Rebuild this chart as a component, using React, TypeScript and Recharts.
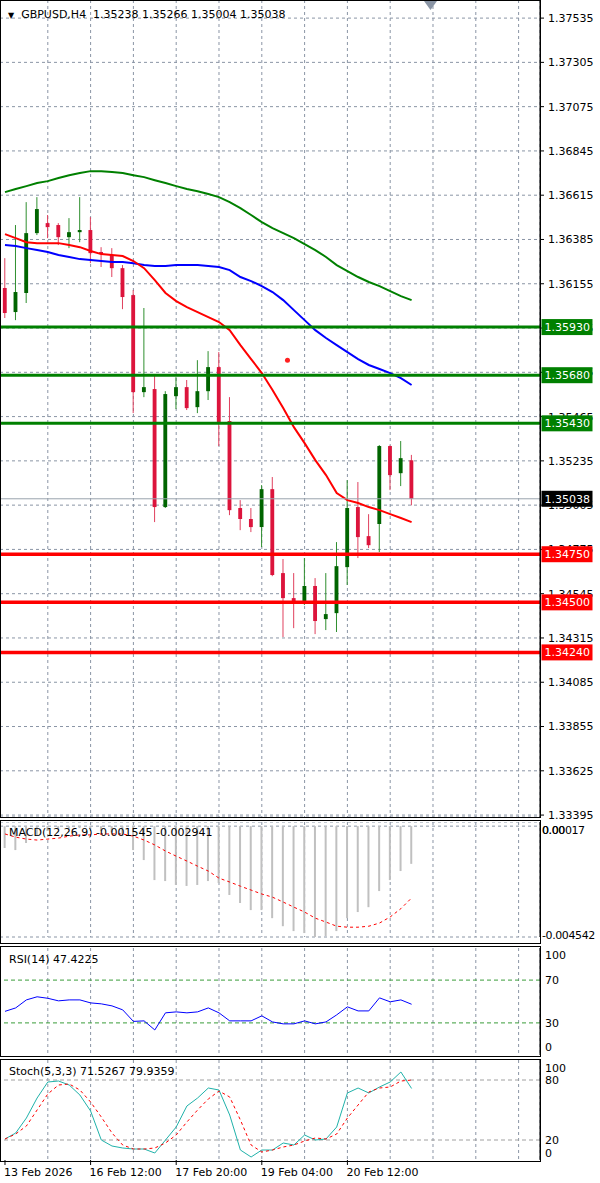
import React from 'react';
import { ComposedChart, Bar, Line, Scatter, XAxis, YAxis, CartesianGrid, ReferenceLine } from 'recharts';

const FONT = '"DejaVu Sans", sans-serif';
const GRID = '#8a95a5';

// ---- candles (GBPUSD H4) ----
const opens = [1.36133, 1.36008, 1.36107, 1.36418, 1.3647, 1.3646, 1.36397, 1.36423, 1.36434, 1.3632, 1.36304, 1.36236, 1.36096, 1.35592, 1.35608, 1.34995, 1.35571, 1.35618, 1.35514, 1.35597, 1.35722, 1.35442, 1.3499, 1.34933, 1.34891, 1.35088, 1.34652, 1.34522, 1.34496, 1.34585, 1.34413, 1.34444, 1.34683, 1.34995, 1.34844, 1.34907, 1.35312, 1.35171, 1.35238];
const highs = [1.36288, 1.3646, 1.36579, 1.36605, 1.36512, 1.3647, 1.36496, 1.36605, 1.36501, 1.36345, 1.3634, 1.36252, 1.36122, 1.36029, 1.35681, 1.35597, 1.3567, 1.35655, 1.35758, 1.35805, 1.358, 1.35566, 1.35031, 1.3499, 1.35109, 1.35151, 1.34725, 1.34652, 1.3473, 1.34626, 1.34652, 1.34813, 1.35135, 1.35125, 1.34958, 1.35317, 1.35315, 1.35338, 1.35266];
const lows = [1.35977, 1.35966, 1.36055, 1.36408, 1.36392, 1.36356, 1.3634, 1.36371, 1.36262, 1.36242, 1.3619, 1.36023, 1.35483, 1.35566, 1.34917, 1.3499, 1.35504, 1.35499, 1.35483, 1.35551, 1.35312, 1.34953, 1.34875, 1.34865, 1.34787, 1.34636, 1.3432, 1.34366, 1.34486, 1.34335, 1.34356, 1.34346, 1.3459, 1.3473, 1.34782, 1.34761, 1.35083, 1.35104, 1.35004];
const closes = [1.36003, 1.36112, 1.36418, 1.36543, 1.36449, 1.36397, 1.36423, 1.36434, 1.36314, 1.36309, 1.36236, 1.36086, 1.35592, 1.35618, 1.34995, 1.35582, 1.35618, 1.35509, 1.35597, 1.35722, 1.35436, 1.34979, 1.34933, 1.34891, 1.35088, 1.34642, 1.34522, 1.34496, 1.34585, 1.34403, 1.34439, 1.34688, 1.3499, 1.34839, 1.34797, 1.35312, 1.35161, 1.35249, 1.35038];

// ---- moving averages ----
const maGreen = [1.36631, 1.36647, 1.36662, 1.36678, 1.36688, 1.36704, 1.36719, 1.3673, 1.3674, 1.3674, 1.36735, 1.3673, 1.36719, 1.36709, 1.36693, 1.36678, 1.36662, 1.36647, 1.36636, 1.36621, 1.36605, 1.36579, 1.36548, 1.36512, 1.36475, 1.36444, 1.36418, 1.36392, 1.36361, 1.3633, 1.36294, 1.36252, 1.36221, 1.3619, 1.36164, 1.36143, 1.36117, 1.36091, 1.3607];
const maBlue = [1.36356, 1.36351, 1.3634, 1.3633, 1.3632, 1.36304, 1.36294, 1.36283, 1.36278, 1.36273, 1.36268, 1.36268, 1.36262, 1.36252, 1.36247, 1.36247, 1.36252, 1.36252, 1.36252, 1.36247, 1.36242, 1.36226, 1.3619, 1.36169, 1.36143, 1.36112, 1.3607, 1.36018, 1.35966, 1.35914, 1.35873, 1.35836, 1.358, 1.35764, 1.35733, 1.35712, 1.35691, 1.35665, 1.35629];
const maRed = [1.36413, 1.36392, 1.36371, 1.36366, 1.36366, 1.36366, 1.36356, 1.36345, 1.36325, 1.36309, 1.36304, 1.36299, 1.36273, 1.36236, 1.36174, 1.36107, 1.36065, 1.36034, 1.36008, 1.35982, 1.35956, 1.35914, 1.35836, 1.35764, 1.35691, 1.35603, 1.35509, 1.3541, 1.35327, 1.35239, 1.35161, 1.35068, 1.35031, 1.35016, 1.34995, 1.34979, 1.34958, 1.34938, 1.34917];

// ---- indicators ----
const macdMain = [-0.0009, -0.00098, -0.00069, -0.0004, -0.0002, -0.00012, -0.0001, -0.00008, -0.00012, -0.0002, -0.00025, -0.0004, -0.00098, -0.00139, -0.00221, -0.00225, -0.00241, -0.00245, -0.00241, -0.00225, -0.00233, -0.00282, -0.00315, -0.00344, -0.00344, -0.00377, -0.0041, -0.0043, -0.00438, -0.004542, -0.0045, -0.0043, -0.00377, -0.00352, -0.00332, -0.00266, -0.00221, -0.00184, -0.001545];
const macdSignal = [-0.00032, -0.00045, -0.00053, -0.00057, -0.00053, -0.00049, -0.00041, -0.00036, -0.00036, -0.00032, -0.00032, -0.00032, -0.00041, -0.00057, -0.00077, -0.00102, -0.00123, -0.00143, -0.00164, -0.00184, -0.00213, -0.00229, -0.00246, -0.00262, -0.00278, -0.00291, -0.00311, -0.00332, -0.00352, -0.00377, -0.00393, -0.0041, -0.00414, -0.00414, -0.0041, -0.00397, -0.00372, -0.00338, -0.002941];
const rsiValues = [40.8, 44.0, 51.5, 54.4, 53.0, 50.6, 51.5, 51.5, 48.7, 47.8, 45.9, 42.2, 31.4, 31.9, 23.4, 39.4, 40.3, 39.4, 40.3, 44.0, 39.4, 31.9, 31.9, 31.9, 36.6, 30.9, 29.1, 29.1, 31.9, 29.1, 30.9, 37.5, 45.0, 41.2, 41.2, 53.4, 49.7, 51.5, 47.4225];
const stochK = [21, 27, 42, 62, 78, 79, 75, 65, 49, 20, 14, 12, 11, 11, 7, 20, 33, 54, 62, 72, 70, 45, 10, 3, 10, 10, 17, 15, 25, 20, 21, 33, 67, 72, 67, 73, 78, 88, 71.5267];
const stochD = [21, 26, 34, 50, 66, 75, 76, 70, 58, 43, 27, 15, 11, 11, 12, 17, 25, 38, 50, 61, 69, 63, 40, 15, 8, 10, 13, 15, 19, 22, 21, 26, 42, 55, 68, 72, 73, 79, 79.9359];

// ---- axes / levels ----
const priceTicks = [1.37535, 1.37305, 1.37075, 1.36845, 1.36615, 1.36385, 1.36155, 1.35925, 1.35695, 1.35465, 1.35235, 1.35005, 1.34775, 1.34545, 1.34315, 1.34085, 1.33855, 1.33625, 1.33395];
const resistanceLevels = [1.3593, 1.3568, 1.3543];
const supportLevels = [1.3475, 1.345, 1.3424];
const lastPrice = 1.35038;
const markerPoints = [{ i: 26.4, p: 1.35758 }];
const macdTicks = [0.00017, 0, -0.004542];
const rsiTicks = [100, 70, 30, 0];
const rsiLevels = [70, 30];
const stochTicks = [100, 80, 20, 0];
const stochLevels = [80, 20];
const gridIdx = [4, 8, 12, 16, 20, 24, 28, 32, 36, 40, 44, 48];
const timeTickIdx = [0, 8, 16, 24, 32];
const timeLabels = ['13 Feb 2026', '16 Feb 12:00', '17 Feb 20:00', '19 Feb 04:00', '20 Feb 12:00'];

const data = opens.map((o, i) => ({
  i,
  o,
  h: highs[i],
  l: lows[i],
  c: closes[i],
  range: [lows[i], highs[i]],
  maG: maGreen[i],
  maB: maBlue[i],
  maR: maRed[i],
  macd: macdMain[i],
  sig: macdSignal[i],
  rsi: rsiValues[i],
  k: stochK[i],
  d: stochD[i],
}));

const tags = [
  ...resistanceLevels.map((v) => ({ v, bg: '#008000' })),
  ...supportLevels.map((v) => ({ v, bg: '#ff0000' })),
  { v: lastPrice, bg: '#000000' },
];

const X_DOMAIN: [number, number] = [-0.467, 50];
const PRICE_DOMAIN: [number, number] = [1.33385, 1.37629];
const W = 600;
const MAIN_MARGIN = { top: 0, right: 0, bottom: 6, left: 0 };

function Candle(props: any) {
  const { x, y, width, height, payload } = props;
  if (payload == null || height == null) return null;
  const { o, h, l, c } = payload;
  const span = h - l || 1e-9;
  const py = (v: number) => y + ((h - v) / span) * height;
  const up = c >= o;
  const top = py(Math.max(o, c));
  const bot = py(Math.min(o, c));
  const cx = x + width / 2;
  const body = up ? '#006400' : '#dc143c';
  const wick = up ? '#2f8f2f' : '#e0405e';
  return (
    <g>
      <line x1={cx} x2={cx} y1={y} y2={y + height} stroke={wick} strokeWidth={1} />
      <rect x={x} y={top} width={width} height={Math.max(bot - top, 1.5)} fill={body} />
    </g>
  );
}

function PriceTag(props: any) {
  const { viewBox, text, bg } = props;
  if (!viewBox) return null;
  const x = viewBox.x + viewBox.width + 1.5;
  const y = viewBox.y;
  return (
    <g>
      <rect x={x} y={y - 8} width={51} height={16} fill={bg} />
      <text x={x + 3} y={y} dy="0.36em" fill="#fff" fontSize={11} fontFamily={FONT}>
        {text}
      </text>
    </g>
  );
}

function makeYTick(lo: number, hi: number, fmt: (v: number) => string, spacing = 0) {
  return (props: any) => {
    const { x, y, payload } = props;
    const yy = Math.min(Math.max(y, lo), hi);
    return (
      <text x={x} y={yy} dy="0.36em" fontSize={11} fontFamily={FONT} fill="#000" textAnchor="start" letterSpacing={spacing}>
        {fmt(payload.value)}
      </text>
    );
  };
}

function TimeTick(props: any) {
  const { x, y, payload } = props;
  const idx = timeTickIdx.indexOf(payload.value);
  return (
    <text x={x - 1} y={y + 6} dy="0.36em" fontSize={11} fontFamily={FONT} fill="#000" textAnchor="start">
      {idx >= 0 ? timeLabels[idx] : ''}
    </text>
  );
}

const priceTick = makeYTick(-100, 10000, (v) => v.toFixed(5));
const macdTick = makeYTick(8, 113, (v) => (v === 0 ? '0.00' : String(v)), -0.4);
const rsiTick = makeYTick(7, 99, (v) => String(v));
const stochTick = makeYTick(8, 93, (v) => String(v));

const frame = (top: number, height: number): React.CSSProperties => ({
  position: 'absolute',
  left: 0,
  top,
  width: 541,
  height,
  border: '1px solid #000',
  boxSizing: 'border-box',
  pointerEvents: 'none',
});

const label = (top: number, left: number): React.CSSProperties => ({
  position: 'absolute',
  top,
  left,
  fontFamily: FONT,
  fontSize: 11,
  lineHeight: '13px',
  color: '#000',
  whiteSpace: 'pre',
  pointerEvents: 'none',
});

const abs = (top: number): React.CSSProperties => ({ position: 'absolute', top, left: 0 });

export default function App() {
  return (
    <div style={{ position: 'absolute', top: 0, left: 0, width: W, height: 1183, background: '#fff', fontFamily: FONT, overflow: 'hidden' }}>
      {/* Main price panel */}
      <div style={abs(0)}>
        <ComposedChart width={W} height={823} data={data} margin={MAIN_MARGIN}>
          <CartesianGrid stroke={GRID} strokeDasharray="3 3" />
          <XAxis dataKey="i" type="number" domain={X_DOMAIN} allowDataOverflow ticks={gridIdx} hide />
          <YAxis
            orientation="right"
            width={60}
            domain={PRICE_DOMAIN}
            allowDataOverflow
            ticks={priceTicks}
            interval={0}
            tick={priceTick}
            tickSize={4}
            tickMargin={4}
            tickLine={{ stroke: '#000' }}
            axisLine={{ stroke: '#000' }}
          />
          <Line dataKey="maG" stroke="#008000" strokeWidth={2} dot={false} activeDot={false} isAnimationActive={false} />
          <Line dataKey="maB" stroke="#0000ff" strokeWidth={2} dot={false} activeDot={false} isAnimationActive={false} />
          <Line dataKey="maR" stroke="#ff0000" strokeWidth={2} dot={false} activeDot={false} isAnimationActive={false} />
          <Bar dataKey="range" barSize={7} shape={<Candle />} activeBar={false} isAnimationActive={false} />
          <Scatter data={markerPoints} dataKey="p" fill="#ff2020" shape={(p: any) => <circle cx={p.cx} cy={p.cy} r={2.5} fill="#ff2020" />} isAnimationActive={false} />
          <ReferenceLine y={lastPrice} stroke="#9aa3ad" strokeWidth={1} />
          {resistanceLevels.map((v) => (
            <ReferenceLine key={'r' + v} y={v} stroke="#008000" strokeWidth={3} />
          ))}
          {supportLevels.map((v) => (
            <ReferenceLine key={'s' + v} y={v} stroke="#ff0000" strokeWidth={3.5} />
          ))}
        </ComposedChart>
      </div>
      {/* price tags layer (drawn above the axis labels) */}
      <div style={abs(0)}>
        <ComposedChart width={W} height={823} data={data} margin={MAIN_MARGIN}>
          <XAxis dataKey="i" type="number" domain={X_DOMAIN} allowDataOverflow hide />
          <YAxis orientation="right" width={60} domain={PRICE_DOMAIN} allowDataOverflow tick={false} tickLine={false} axisLine={false} />
          {tags.map((t) => (
            <ReferenceLine key={'t' + t.v} y={t.v} stroke="none" label={<PriceTag text={t.v.toFixed(5)} bg={t.bg} />} />
          ))}
        </ComposedChart>
      </div>
      <div style={frame(0, 818)} />
      <div style={label(8, 8)}>
        <span style={{ fontSize: 8 }}>▼</span>
        {'  GBPUSD,H4  1.35238 1.35266 1.35004 1.35038'}
      </div>
      <svg style={{ position: 'absolute', top: 0, left: 424 }} width={14} height={11}>
        <polygon points="0,1 13,1 6.5,10" fill="#8a95a5" />
      </svg>

      {/* MACD panel */}
      <div style={abs(822)}>
        <ComposedChart width={W} height={121} data={data} margin={{ top: 0, right: 0, bottom: 6, left: 0 }}>
          <CartesianGrid stroke={GRID} strokeDasharray="3 3" />
          <XAxis dataKey="i" type="number" domain={X_DOMAIN} allowDataOverflow ticks={gridIdx} hide />
          <YAxis
            orientation="right"
            width={60}
            domain={[-0.004542, 0.00017]}
            allowDataOverflow
            ticks={macdTicks}
            interval={0}
            tick={macdTick}
            tickSize={0}
            tickMargin={2}
            tickLine={false}
            axisLine={{ stroke: '#000' }}
          />
          <Bar dataKey="macd" barSize={2} fill="#c0c0c0" activeBar={false} isAnimationActive={false} />
          <Line dataKey="sig" stroke="#ff0000" strokeWidth={1} strokeDasharray="3 3" dot={false} activeDot={false} isAnimationActive={false} />
        </ComposedChart>
      </div>
      <div style={frame(820, 124)} />
      <div style={label(826, 9)}>{'MACD(12,26,9) -0.001545 -0.002941'}</div>

      {/* RSI panel */}
      <div style={abs(948)}>
        <ComposedChart width={W} height={107} data={data} margin={{ top: 0, right: 0, bottom: 0, left: 0 }}>
          <CartesianGrid stroke={GRID} strokeDasharray="3 3" horizontal={false} />
          <XAxis dataKey="i" type="number" domain={X_DOMAIN} allowDataOverflow ticks={gridIdx} hide />
          <YAxis
            orientation="right"
            width={60}
            domain={[0, 100]}
            allowDataOverflow
            ticks={rsiTicks}
            interval={0}
            tick={rsiTick}
            tickSize={0}
            tickMargin={5}
            tickLine={false}
            axisLine={{ stroke: '#000' }}
          />
          {rsiLevels.map((v) => (
            <ReferenceLine key={'rl' + v} y={v} stroke="#3a9c3a" strokeDasharray="4 3" strokeWidth={1} />
          ))}
          <Line dataKey="rsi" stroke="#0000ff" strokeWidth={1} dot={false} activeDot={false} isAnimationActive={false} />
        </ComposedChart>
      </div>
      <div style={frame(946, 111)} />
      <div style={label(953, 9)}>{'RSI(14) 47.4225'}</div>

      {/* Stochastic panel */}
      <div style={abs(1060)}>
        <ComposedChart width={W} height={123} data={data} margin={{ top: 0, right: 0, bottom: 0, left: 0 }}>
          <XAxis
            xAxisId="time"
            dataKey="i"
            type="number"
            domain={X_DOMAIN}
            allowDataOverflow
            ticks={timeTickIdx}
            interval={0}
            height={23}
            tick={<TimeTick />}
            tickSize={5}
            tickMargin={1}
            tickLine={{ stroke: '#000' }}
            axisLine={false}
          />
          <XAxis xAxisId="grid" dataKey="i" type="number" domain={X_DOMAIN} allowDataOverflow ticks={gridIdx} height={0} hide />
          <CartesianGrid stroke={GRID} strokeDasharray="3 3" horizontal={false} xAxisId="grid" />
          <YAxis
            orientation="right"
            width={60}
            domain={[0, 100]}
            allowDataOverflow
            ticks={stochTicks}
            interval={0}
            tick={stochTick}
            tickSize={0}
            tickMargin={5}
            tickLine={false}
            axisLine={{ stroke: '#000' }}
          />
          {stochLevels.map((v) => (
            <ReferenceLine key={'sl' + v} xAxisId="time" y={v} stroke="#a0a0a0" strokeDasharray="4 3" strokeWidth={1} />
          ))}
          <Line xAxisId="time" dataKey="k" stroke="#20b2aa" strokeWidth={1} dot={false} activeDot={false} isAnimationActive={false} />
          <Line xAxisId="time" dataKey="d" stroke="#ff0000" strokeWidth={1} strokeDasharray="3 3" dot={false} activeDot={false} isAnimationActive={false} />
        </ComposedChart>
      </div>
      <div style={frame(1059, 103)} />
      <div style={label(1065, 9)}>{'Stoch(5,3,3) 71.5267 79.9359'}</div>
    </div>
  );
}
